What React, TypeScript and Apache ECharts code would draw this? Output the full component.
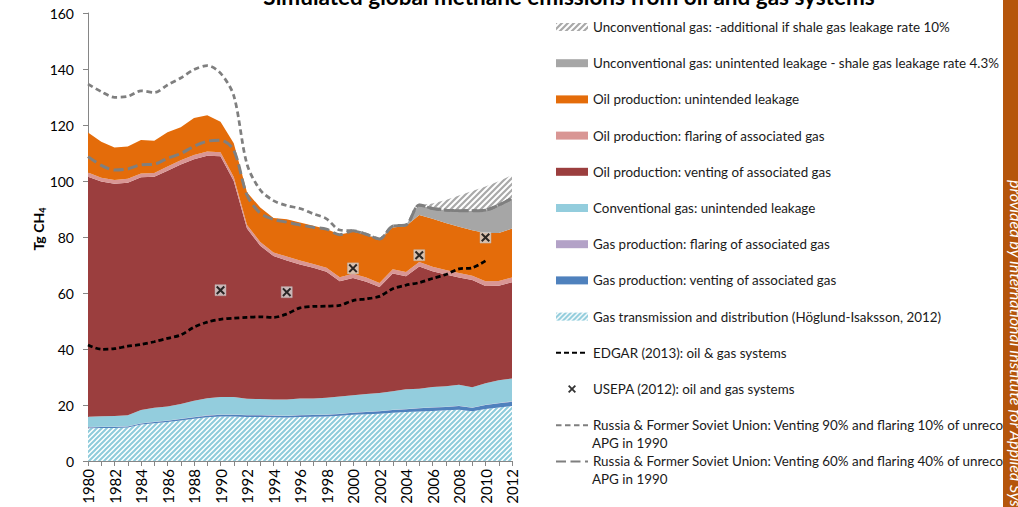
import React, { useEffect, useRef } from 'react';
import * as echarts from 'echarts';

const years = ['1980','1981','1982','1983','1984','1985','1986','1987','1988','1989','1990','1991','1992','1993','1994','1995','1996','1997','1998','1999','2000','2001','2002','2003','2004','2005','2006','2007','2008','2009','2010','2011','2012'];

const gasTransmission = [11.7,11.8,11.8,12.0,13.0,13.5,13.9,14.5,15.1,15.6,15.9,15.9,15.7,15.7,15.6,15.5,15.7,15.8,15.9,16.2,16.5,16.7,16.9,17.2,17.5,17.7,17.9,18.1,18.3,17.8,18.6,19.1,19.6];
const gasVenting = [0.3,0.3,0.3,0.3,0.4,0.4,0.5,0.5,0.5,0.6,0.6,0.6,0.6,0.6,0.6,0.6,0.6,0.6,0.6,0.6,0.7,0.8,0.9,1.0,1.0,1.1,1.2,1.2,1.3,1.2,1.4,1.5,1.6];
const gasFlaring = [0.1,0.1,0.1,0.1,0.1,0.1,0.1,0.1,0.1,0.1,0.1,0.1,0.1,0.1,0.1,0.1,0.1,0.1,0.1,0.1,0.1,0.1,0.1,0.1,0.1,0.1,0.1,0.1,0.1,0.1,0.1,0.1,0.1];
const convGasLeak = [3.7,3.8,3.9,3.9,4.7,5.0,5.0,5.3,5.8,6.1,6.3,6.3,5.8,5.7,5.7,5.8,5.9,5.8,6.0,6.1,6.2,6.3,6.4,6.6,7.0,6.9,7.2,7.3,7.5,7.2,7.7,8.1,8.2];
const oilVenting = [85.7,83.8,82.9,83.1,83.1,82.5,84.2,85.5,86.3,86.6,85.9,77.1,60.8,54.8,51.2,49.6,47.9,46.7,45.0,41.2,41.9,40.1,37.8,42.1,40.4,43.7,41.4,39.9,38.3,38.3,34.7,33.8,34.3];
const oilFlaring = [1.5,1.4,1.4,1.4,1.4,1.4,1.5,1.5,1.5,1.5,1.5,1.4,1.3,1.3,1.3,1.4,1.4,1.4,1.4,1.4,1.5,1.5,1.5,1.5,1.5,1.6,1.6,1.6,1.6,1.6,1.7,1.7,1.7];
const oilLeak = [14.3,12.8,11.6,11.5,11.9,11.5,12.2,11.8,13.2,13.0,10.9,12.1,11.7,12.3,12.3,13.3,13.6,13.6,13.9,15.2,15.1,15.3,15.4,14.9,16.4,16.8,17.1,16.8,16.6,16.2,17.2,17.1,17.5];
const unconvLeak = [0,0,0,0,0,0,0,0,0,0,0,0,0,0,0,0,0,0,0,0,0.2,0.2,0.3,0.5,0.4,3.5,3.7,4.6,5.7,7.0,8.2,10.0,10.8];
const unconvExtra10 = [0,0,0,0,0,0,0,0,0,0,0,0,0,0,0,0,0,0,0,0,0,0,0,0,0,0,1.8,3.6,5.4,7.0,8.4,8.5,8.3];

const edgar = [41.4,39.9,40.1,41.0,41.6,42.6,43.8,45.0,47.8,49.6,50.6,51.0,51.3,51.5,51.3,52.5,54.7,55.2,55.3,55.6,57.3,57.9,58.8,61.5,62.8,63.7,65.2,66.6,68.6,69.0,71.5,null,null];
const russia90 = [134.6,131.9,129.9,130.2,132.2,131.6,134.3,136.8,139.8,141.2,138.5,130.5,106.0,96.8,93.0,91.2,90.2,88.3,86.5,82.5,82.2,81.0,79.3,83.9,84.3,91.4,90.2,89.6,89.4,89.4,89.6,91.4,93.8];
const russia60 = [108.7,105.6,103.9,104.3,105.8,106.0,108.1,109.8,112.4,114.2,114.6,111.0,95.0,88.5,86.3,85.3,84.3,83.5,82.8,80.8,82.2,81.0,79.3,83.9,84.3,91.4,90.2,89.6,89.4,89.4,89.6,91.4,93.8];

const usepaYears = ['1990','1995','2000','2005','2010'];
const usepaValues = [61.0,60.3,68.8,73.5,79.8];

const N_U10 = 'Unconventional gas: -additional if shale gas leakage rate 10%';
const N_U43 = 'Unconventional gas: unintented leakage - shale gas leakage rate 4.3%';
const N_OIL_LEAK = 'Oil production: unintended leakage';
const N_OIL_FLARE = 'Oil production: flaring of associated gas';
const N_OIL_VENT = 'Oil production: venting of associated gas';
const N_CONV = 'Conventional gas: unintended leakage';
const N_GAS_FLARE = 'Gas production: flaring of associated gas';
const N_GAS_VENT = 'Gas production: venting of associated gas';
const N_GAS_TD = 'Gas transmission and distribution (Höglund-Isaksson, 2012)';
const N_EDGAR = 'EDGAR (2013): oil & gas systems';
const N_USEPA = 'USEPA (2012): oil and gas systems';
const N_R90 = 'Russia & Former Soviet Union: Venting 90% and flaring 10% of unrecovered\nAPG in 1990';
const N_R60 = 'Russia & Former Soviet Union: Venting 60% and flaring 40% of unrecovered\nAPG in 1990';

const TITLE = 'Simulated global methane emissions from oil and gas systems';

function stripes(fg: string, bg: string, size: number, lw: number) {
  const c = document.createElement('canvas');
  c.width = size;
  c.height = size;
  const ctx = c.getContext('2d')!;
  ctx.fillStyle = bg;
  ctx.fillRect(0, 0, size, size);
  ctx.strokeStyle = fg;
  ctx.lineWidth = lw;
  ctx.beginPath();
  ctx.moveTo(0, size); ctx.lineTo(size, 0);
  ctx.moveTo(-size / 2, size / 2); ctx.lineTo(size / 2, -size / 2);
  ctx.moveTo(size / 2, size * 1.5); ctx.lineTo(size * 1.5, size / 2);
  ctx.stroke();
  return { image: c, repeat: 'repeat', imageWidth: size, imageHeight: size } as any;
}

const X_PATH = 'path://M0,1.6 L1.6,0 L5,3.4 L8.4,0 L10,1.6 L6.6,5 L10,8.4 L8.4,10 L5,6.6 L1.6,10 L0,8.4 L3.4,5 Z';

export default function App() {
  const ref = useRef<HTMLDivElement>(null);
  useEffect(() => {
    if (!ref.current) return;
    const chart = echarts.init(ref.current, null, { renderer: 'svg' });
    const blueHatch = stripes('#8ecbdb', '#ffffff', 5, 2);
    const greyHatch = stripes('#a9a9a9', '#ffffff', 6, 2.2);
    const colors: Record<string, any> = {
      [N_U10]: greyHatch,
      [N_U43]: '#a6a6a6',
      [N_OIL_LEAK]: '#e46c0a',
      [N_OIL_FLARE]: '#d99694',
      [N_OIL_VENT]: '#9b3e3e',
      [N_CONV]: '#93cddd',
      [N_GAS_FLARE]: '#b3a2c7',
      [N_GAS_VENT]: '#4f81bd',
      [N_GAS_TD]: blueHatch,
    };
    const area = (name: string, data: number[]) => ({
      name,
      type: 'line',
      stack: 'total',
      data,
      symbol: 'none',
      showSymbol: false,
      lineStyle: { width: 0 },
      areaStyle: { color: colors[name], opacity: 1 },
      itemStyle: { color: colors[name] },
      emphasis: { disabled: true },
      z: 2,
    });
    const usepaData = usepaYears.map((y, i) => [y, usepaValues[i]]);
    const font = 'Lato';
    const noDot = { color: 'rgba(0,0,0,0)', borderWidth: 0, opacity: 0 };
    const option: any = {
      animation: false,
      grid: { left: 88, right: 506, top: 13, bottom: 46 },
      xAxis: {
        type: 'category',
        data: years,
        boundaryGap: false,
        axisLine: { lineStyle: { color: '#868686', width: 1 } },
        axisTick: { show: true, interval: 0, length: 5, lineStyle: { color: '#868686' } },
        axisLabel: { interval: 1, rotate: 90, fontFamily: font, fontSize: 15, color: '#000', margin: 8 },
        splitLine: { show: false },
      },
      yAxis: {
        type: 'value',
        min: 0,
        max: 160,
        interval: 20,
        axisLine: { show: true, lineStyle: { color: '#868686' } },
        axisTick: { show: true, length: 5, lineStyle: { color: '#868686' } },
        axisLabel: { fontFamily: font, fontSize: 14, color: '#000', margin: 14 },
        splitLine: { show: false },
      },
      legend: {
        orient: 'vertical',
        left: 555,
        top: 20.5,
        padding: 0,
        itemGap: 23.2,
        itemWidth: 32,
        itemHeight: 8,
        selectedMode: false,
        textStyle: { fontFamily: font, fontSize: 13.4, color: '#1a1a1a' },
        formatter: (n: string) => n.split('\n')[0],
        data: [
          { name: N_U10, icon: 'rect', itemStyle: { color: greyHatch, borderWidth: 0 } },
          { name: N_U43, icon: 'rect', itemStyle: { color: colors[N_U43], borderWidth: 0 } },
          { name: N_OIL_LEAK, icon: 'rect', itemStyle: { color: colors[N_OIL_LEAK], borderWidth: 0 } },
          { name: N_OIL_FLARE, icon: 'rect', itemStyle: { color: colors[N_OIL_FLARE], borderWidth: 0 } },
          { name: N_OIL_VENT, icon: 'rect', itemStyle: { color: colors[N_OIL_VENT], borderWidth: 0 } },
          { name: N_CONV, icon: 'rect', itemStyle: { color: colors[N_CONV], borderWidth: 0 } },
          { name: N_GAS_FLARE, icon: 'rect', itemStyle: { color: colors[N_GAS_FLARE], borderWidth: 0 } },
          { name: N_GAS_VENT, icon: 'rect', itemStyle: { color: colors[N_GAS_VENT], borderWidth: 0 } },
          { name: N_GAS_TD, icon: 'rect', itemStyle: { color: blueHatch, borderWidth: 0 } },
          { name: N_EDGAR, itemStyle: noDot },
          { name: N_USEPA },
          { name: N_R90, itemStyle: noDot },
          { name: N_R60, itemStyle: noDot },
        ],
      },
      series: [
        area(N_GAS_TD, gasTransmission),
        area(N_GAS_VENT, gasVenting),
        area(N_GAS_FLARE, gasFlaring),
        area(N_CONV, convGasLeak),
        area(N_OIL_VENT, oilVenting),
        area(N_OIL_FLARE, oilFlaring),
        area(N_OIL_LEAK, oilLeak),
        area(N_U43, unconvLeak),
        area(N_U10, unconvExtra10),
        {
          name: N_EDGAR, type: 'line', data: edgar, symbol: 'none', smooth: 0.3,
          lineStyle: { color: '#000', width: 2.75, type: [5, 3] }, itemStyle: { color: '#000' }, z: 3,
        },
        {
          name: N_R90, type: 'line', data: russia90, symbol: 'none', smooth: 0.3,
          lineStyle: { color: '#7f7f7f', width: 2.75, type: [5.5, 3.5] }, itemStyle: { color: '#7f7f7f' }, z: 3,
        },
        {
          name: N_R60, type: 'line', data: russia60, symbol: 'none', smooth: 0.3,
          lineStyle: { color: '#7f7f7f', width: 3, type: [10, 4.5] }, itemStyle: { color: '#7f7f7f' }, z: 3,
        },
        {
          name: 'usepa-bg', type: 'scatter', data: usepaData, symbol: 'rect', symbolSize: 11, silent: true,
          itemStyle: { color: '#d6d6d6', borderColor: '#bbbbbb', borderWidth: 0.5 }, z: 4,
        },
        {
          name: N_USEPA, type: 'scatter', data: usepaData, symbol: X_PATH, symbolSize: 9,
          itemStyle: { color: '#000' }, z: 5,
        },
      ],
      graphic: [
        {
          type: 'text', x: 569, y: 7.5,
          style: { text: TITLE, font: 'bold 22.5px Lato', fill: '#000', textAlign: 'center', textVerticalAlign: 'bottom' },
        },
        {
          type: 'text', x: 38, y: 229, rotation: Math.PI / 2,
          style: {
            text: '{a|Tg CH}{b|4}',
            textAlign: 'center', textVerticalAlign: 'middle',
            rich: {
              a: { fontFamily: font, fontWeight: 'bold', fontSize: 14, lineHeight: 18, verticalAlign: 'middle', fill: '#000' },
              b: { fontFamily: font, fontWeight: 'bold', fontSize: 9, lineHeight: 18, verticalAlign: 'bottom', fill: '#000' },
            },
          },
        },
        {
          type: 'text', x: 592, y: 442.5,
          style: { text: 'APG in 1990', font: '13.4px Lato', fill: '#1a1a1a', textVerticalAlign: 'middle' },
        },
        {
          type: 'text', x: 592, y: 478.5,
          style: { text: 'APG in 1990', font: '13.4px Lato', fill: '#1a1a1a', textVerticalAlign: 'middle' },
        },
        {
          type: 'rect', z: 100, shape: { x: 1003, y: 0, width: 15, height: 507 }, style: { fill: '#b5550b' },
        },
        {
          type: 'text', z: 101, x: 1008, y: 180, rotation: -Math.PI / 2,
          style: { text: 'provided by International Institute for Applied Systems Analysis', font: 'italic 16px Lato', fill: '#ffffff', textAlign: 'left', textVerticalAlign: 'bottom' },
        },
      ],
    };
    chart.setOption(option);
    return () => chart.dispose();
  }, []);
  return <div ref={ref} style={{ position: 'absolute', left: 0, top: 0, width: 1018, height: 507 }} />;
}
